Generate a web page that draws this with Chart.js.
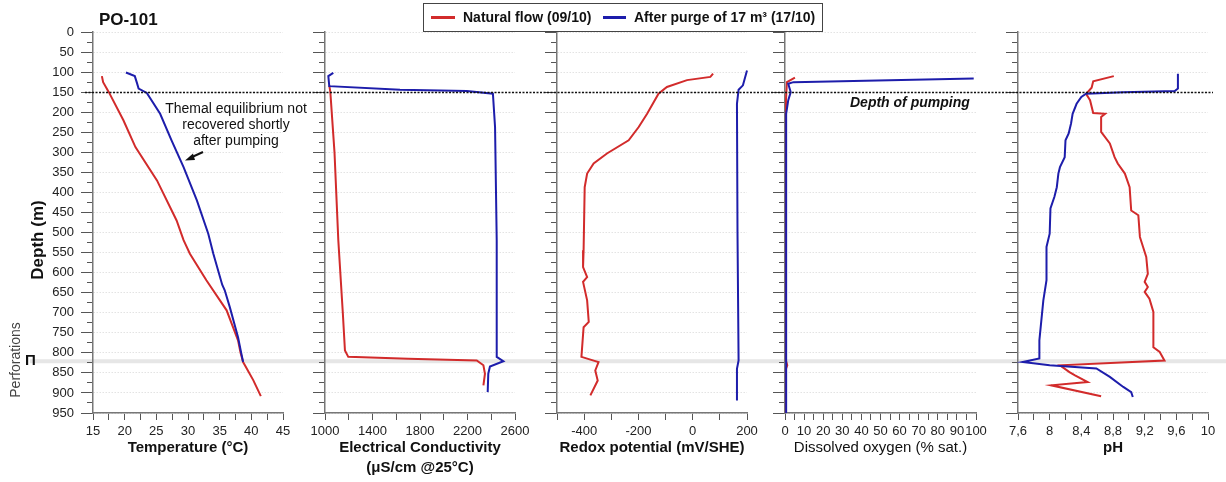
<!DOCTYPE html>
<html>
<head>
<meta charset="utf-8">
<script src="https://cdn.jsdelivr.net/npm/chart.js@4.4.1/dist/chart.umd.min.js"></script>
<style>
    html, body { margin: 0; padding: 0; background: #fff; overflow: hidden; }
    body { width: 1226px; height: 482px; position: relative; font-family: 'Liberation Sans', Arial, sans-serif; color: #111; }
    canvas { position: absolute; top: 0; }
    .txt { position: absolute; white-space: nowrap; }
    .rot { transform: translate(-50%, -50%) rotate(-90deg); }
    #legend { position: absolute; left: 423px; top: 3px; width: 398px; height: 27px; border: 1px solid #444; background: #fff; font: bold 14px 'Liberation Sans', Arial, sans-serif; }
    #legend .sw { position: absolute; top: 12px; height: 2.5px; }
    #legend .lb { position: absolute; top: 0; line-height: 26px; }
</style>
</head>
<body>
<canvas id="back" width="1226" height="482" style="left:0"></canvas>
<canvas id="front" width="1226" height="482" style="left:0;pointer-events:none"></canvas>

<div class="txt" style="left:99px;top:10px;font:bold 17px 'Liberation Sans',Arial;line-height:20px">PO-101</div>
<div class="txt rot" style="left:38px;top:240px;font:bold 17px 'Liberation Sans',Arial">Depth (m)</div>
<div class="txt rot" style="left:15px;top:360px;font:14px 'Liberation Sans',Arial;color:#444">Perforations</div>
<div class="txt" style="left:25px;top:351px;font:bold 15px 'Liberation Sans',Arial;line-height:18px">Π</div>
<div class="txt" style="left:141px;top:100px;width:190px;text-align:center;font:14px 'Liberation Sans',Arial;line-height:16px;white-space:normal">Themal equilibrium not<br>recovered shortly<br>after pumping</div>
<div class="txt" style="left:850px;top:94px;font:italic bold 14px 'Liberation Sans',Arial;line-height:16px">Depth of pumping</div>

<div id="legend">
    <div class="sw" style="left:7px;width:24px;background:#d22b2b"></div>
    <div class="lb" style="left:39px">Natural flow (09/10)</div>
    <div class="sw" style="left:179px;width:23px;background:#1d1dab"></div>
    <div class="lb" style="left:210px">After purge of 17 m³ (17/10)</div>
</div>

<script>
// Depth profiles, well PO-101 (depth in m, red = natural flow 09/10, blue = after purge 17/10)
const tempNatDepth = [110, 125, 150, 220, 287, 370, 470, 519, 553, 619, 694, 769, 800, 823, 868, 908];
const tempNatVal = [16.4, 16.6, 17.5, 19.8, 21.7, 25.1, 28.2, 29.3, 30.3, 32.9, 36.1, 37.9, 38.3, 38.7, 40.3, 41.5];
const tempPurDepth = [101, 110, 125, 141, 152, 204, 270, 337, 420, 503, 553, 630, 644, 686, 761, 800, 823];
const tempPurVal = [20.2, 21.6, 21.9, 22.2, 23.5, 25.6, 27.4, 29.3, 31.4, 33.2, 34.0, 35.4, 35.8, 36.6, 37.9, 38.4, 38.7];

const ecNatDepth = [133, 150, 300, 519, 700, 794, 810, 815, 819, 831, 852, 881];
const ecNatVal = [1036, 1045, 1080, 1112, 1150, 1168, 1196, 1700, 2278, 2334, 2347, 2334];
const ecPurDepth = [102, 110, 135, 144, 147, 154, 237, 519, 810, 821, 834, 852, 898];
const ecPurVal = [1070, 1028, 1036, 1632, 2194, 2414, 2432, 2446, 2446, 2502, 2389, 2375, 2370];

const ehNatDepth = [104, 112, 120, 137, 154, 204, 237, 270, 303, 328, 353, 387, 544, 586, 611, 623, 669, 723, 736, 810, 823, 844, 869, 906];
const ehNatVal = [75, 65, -21, -95, -126, -168, -199, -236, -316, -365, -389, -398, -402, -404, -389, -404, -389, -383, -402, -410, -347, -359, -350, -377];
const ehPurDepth = [96, 133, 144, 179, 500, 819, 840, 919];
const ehPurVal = [200, 185, 169, 163, 165, 169, 163, 163];

const doNatDepth = [114, 125, 170, 820, 831, 840, 950];
const doNatVal = [5.2, 1.0, 0.5, 0.5, 1.2, 0.5, 0.5];
const doPurDepth = [116, 125, 129, 150, 170, 204, 950];
const doPurVal = [98.8, 4.4, 1.7, 3, 1.7, 0.6, 0.6];

const phNatDepth = [110, 123, 139, 154, 170, 202, 204, 212, 249, 278, 312, 328, 353, 387, 445, 457, 511, 536, 561, 603, 623, 636, 648, 665, 698, 786, 798, 819, 831, 848, 856, 873, 881, 908];
const phNatVal = [8.81, 8.55, 8.53, 8.46, 8.51, 8.55, 8.70, 8.65, 8.65, 8.76, 8.82, 8.86, 8.95, 9.01, 9.03, 9.12, 9.14, 9.18, 9.22, 9.24, 9.20, 9.24, 9.20, 9.26, 9.31, 9.31, 9.39, 9.45, 8.13, 8.25, 8.32, 8.48, 8.02, 8.65];
const phPurDepth = [104, 141, 147, 150, 154, 162, 179, 204, 228, 253, 270, 312, 337, 353, 387, 411, 440, 503, 536, 619, 669, 769, 814, 823, 831, 839, 860, 885, 898, 910];
const phPurVal = [9.62, 9.62, 9.58, 8.93, 8.46, 8.40, 8.34, 8.29, 8.27, 8.24, 8.20, 8.19, 8.13, 8.11, 8.09, 8.06, 8.01, 8.00, 7.96, 7.96, 7.92, 7.87, 7.87, 7.66, 8.00, 8.59, 8.76, 8.93, 9.03, 9.05];

const pumpDepth = 150;
const perfDepth = 821;

const RED = '#d22b2b';
const BLUE = '#1d1dab';
const H = 482, TOP = 32, BOTTOM = 413, PAD_R = 22;

Chart.defaults.font.family = "'Liberation Sans', Arial, sans-serif";

function pts(depths, vals) {
    return depths.map((d, i) => ({ x: vals[i], y: d }));
}

function makePanel(p) {
    const cv = document.createElement('canvas');
    cv.width = p.yW + (p.right - p.left) + PAD_R;
    cv.height = H;
    cv.style.left = (p.left - p.yW) + 'px';
    document.body.insertBefore(cv, document.getElementById('front'));

    return new Chart(cv, {
        type: 'line',
        data: {
            datasets: [
                { data: pts(p.purD, p.purV), borderColor: BLUE, order: 0, clip: 4 },
                { data: pts(p.natD, p.natV), borderColor: RED, order: 1, clip: 4 }
            ]
        },
        options: {
            responsive: false,
            animation: false,
            devicePixelRatio: 1,
            indexAxis: 'y',
            layout: { padding: { top: TOP, right: PAD_R, bottom: 0, left: 0 } },
            plugins: { legend: { display: false }, tooltip: { enabled: false } },
            elements: {
                point: { radius: 0 },
                line: { tension: 0, borderWidth: 2, fill: false }
            },
            scales: {
                x: {
                    type: 'linear', position: 'bottom',
                    min: p.min, max: p.max,
                    afterFit: s => { s.height = H - BOTTOM; },
                    ticks: {
                        stepSize: p.step, autoSkip: false, maxRotation: 0, minRotation: 0,
                        padding: 4, color: '#222', font: { size: 13 },
                        callback: p.label
                    },
                    grid: { drawOnChartArea: false, tickLength: 7, tickColor: '#555' },
                    border: { color: '#777', width: 1.5 },
                    title: {
                        display: true, text: p.title, color: '#111',
                        font: { size: 15, weight: p.titleWeight || 'bold', lineHeight: 1.333 },
                        padding: { top: 0, bottom: Array.isArray(p.title) ? 4 : 24 }
                    }
                },
                y: {
                    type: 'linear', position: 'left', reverse: true,
                    min: 0, max: 950, weight: 1,
                    afterFit: s => { s.width = p.yW; },
                    ticks: {
                        stepSize: 25, autoSkip: false, display: p.showY, padding: 7,
                        color: '#222', font: { size: 13 },
                        callback: v => (v % 50 === 0 ? v : '')
                    },
                    grid: {
                        color: c => (c.tick && c.tick.value % 50 === 0 ? '#e3e3e3' : 'rgba(0,0,0,0)'),
                        tickColor: c => (c.tick && c.tick.value % 50 === 0 ? '#555' : 'rgba(0,0,0,0)'),
                        tickLength: 12, lineWidth: 1
                    },
                    border: { color: '#777', width: 1.5, dash: [1.5, 1.5] }
                },
                y2: {
                    type: 'linear', position: 'left', reverse: true,
                    min: 0, max: 950, weight: 0,
                    afterFit: s => { s.width = 0; },
                    ticks: { stepSize: 25, autoSkip: false, display: false },
                    grid: { drawOnChartArea: false, tickLength: 6, tickColor: '#555' },
                    border: { display: false }
                }
            }
        }
    });
}

const fmt = v => String(Math.round(v * 10) / 10).replace('.', ',');

const charts = [
    makePanel({
        left: 93, right: 283, yW: 60, showY: true,
        min: 15, max: 45, step: 2.5, label: v => (v % 5 === 0 ? v : ''),
        title: 'Temperature (°C)',
        natD: tempNatDepth, natV: tempNatVal, purD: tempPurDepth, purV: tempPurVal
    }),
    makePanel({
        left: 325, right: 515, yW: 20, showY: false,
        min: 1000, max: 2600, step: 200, label: v => ((v - 1000) % 400 === 0 ? v : ''),
        title: ['Electrical Conductivity', '(μS/cm @25°C)'],
        natD: ecNatDepth, natV: ecNatVal, purD: ecPurDepth, purV: ecPurVal
    }),
    makePanel({
        left: 557, right: 747, yW: 20, showY: false,
        min: -500, max: 200, step: 100, label: v => (v % 200 === 0 ? v : ''),
        title: 'Redox potential (mV/SHE)',
        natD: ehNatDepth, natV: ehNatVal, purD: ehPurDepth, purV: ehPurVal
    }),
    makePanel({
        left: 785, right: 976, yW: 20, showY: false,
        min: 0, max: 100, step: 5, label: v => (v % 10 === 0 ? v : ''),
        title: 'Dissolved oxygen (% sat.)', titleWeight: 'normal',
        natD: doNatDepth, natV: doNatVal, purD: doPurDepth, purV: doPurVal
    }),
    makePanel({
        left: 1018, right: 1208, yW: 20, showY: false,
        min: 7.6, max: 10, step: 0.2, label: v => (Math.round((v - 7.6) / 0.2) % 2 === 0 ? fmt(v) : ''),
        title: 'pH',
        natD: phNatDepth, natV: phNatVal, purD: phPurDepth, purV: phPurVal
    })
];

// Perforation band (behind) and pumping depth line (front), placed with the depth scale
const yScale = charts[0].scales.y;

const back = document.getElementById('back').getContext('2d');
const yPerf = yScale.getPixelForValue(perfDepth);
back.strokeStyle = '#e6e6e6';
back.lineWidth = 4;
back.beginPath();
back.moveTo(30, yPerf);
back.lineTo(1226, yPerf);
back.stroke();

const front = document.getElementById('front').getContext('2d');
const yPump = Math.round(yScale.getPixelForValue(pumpDepth)) + 0.5;
front.strokeStyle = '#111';
front.lineWidth = 1.5;
front.setLineDash([2, 1.5]);
front.beginPath();
front.moveTo(85, yPump);
front.lineTo(1213, yPump);
front.stroke();

// annotation arrow
front.setLineDash([]);
front.lineWidth = 2;
front.beginPath();
front.moveTo(203, 152);
front.lineTo(191, 157.5);
front.stroke();
front.fillStyle = '#111';
front.beginPath();
front.moveTo(185, 160.5);
front.lineTo(193, 153.5);
front.lineTo(195, 160);
front.closePath();
front.fill();
</script>
</body>
</html>
